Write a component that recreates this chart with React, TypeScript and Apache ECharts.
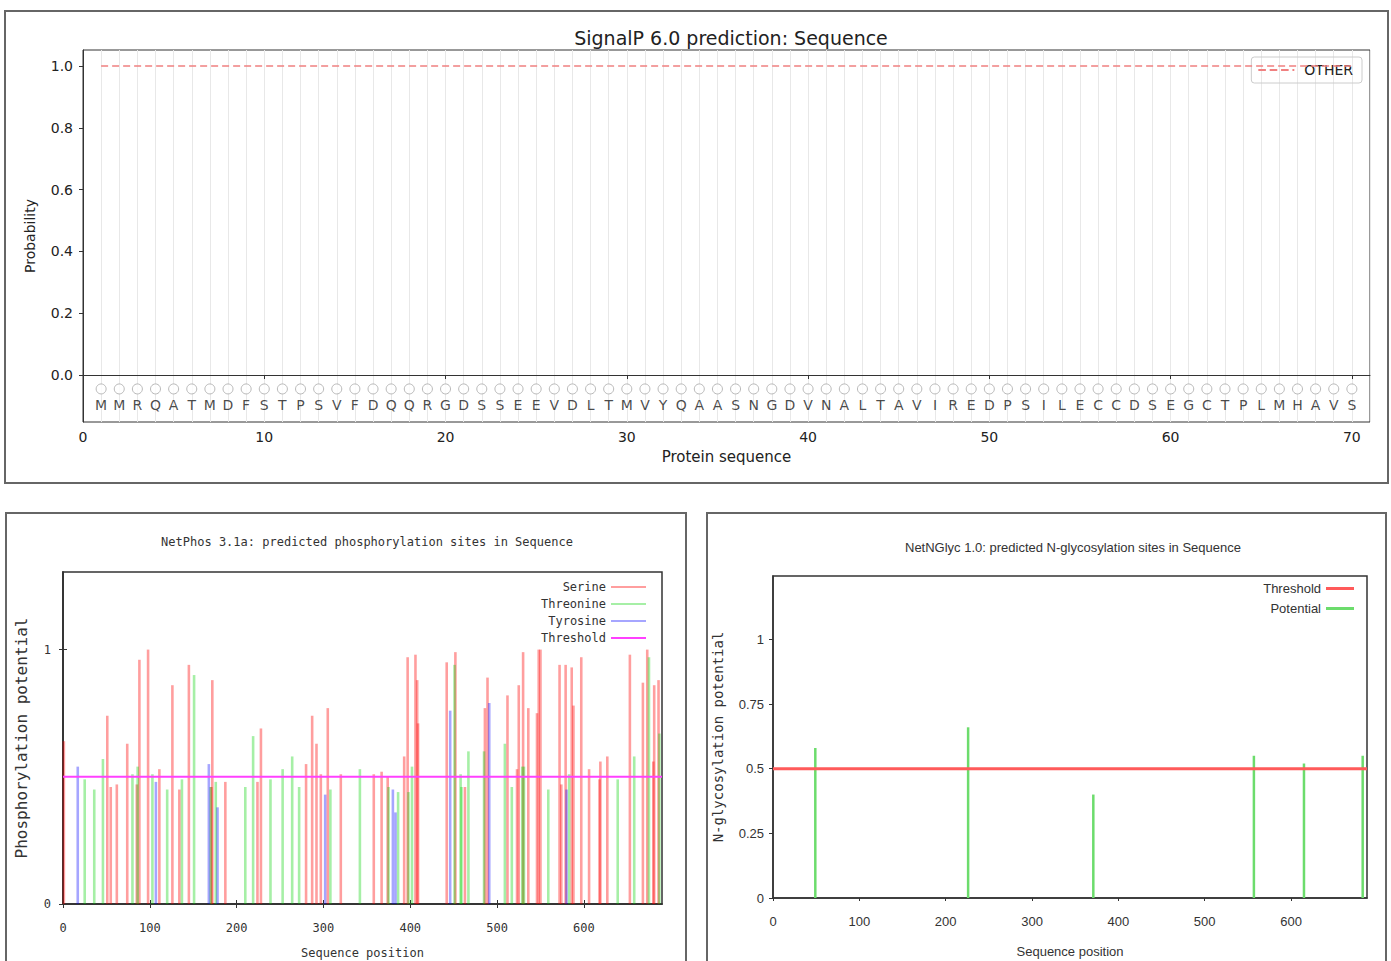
import React, { useEffect, useRef } from 'react';
import * as echarts from 'echarts';

// ---------- SignalP 6.0 (top) ----------
const sequence = ['M','M','R','Q','A','T','M','D','F','S','T','P','S','V','F','D','Q','Q','R','G','D','S','S','E','E','V','D','L','T','M','V','Y','Q','A','A','S','N','G','D','V','N','A','L','T','A','V','I','R','E','D','P','S','I','L','E','C','C','D','S','E','G','C','T','P','L','M','H','A','V','S'];
const otherProb = [1,1,1,1,1,1,1,1,1,1,1,1,1,1,1,1,1,1,1,1,1,1,1,1,1,1,1,1,1,1,1,1,1,1,1,1,1,1,1,1,1,1,1,1,1,1,1,1,1,1,1,1,1,1,1,1,1,1,1,1,1,1,1,1,1,1,1,1,1,1];
const topXTicks = [0, 10, 20, 30, 40, 50, 60, 70];
const topYTicks = [0, 0.2, 0.4, 0.6, 0.8, 1.0];

// ---------- NetPhos 3.1a (bottom left) ----------
const serine = [[1,0.64],[51,0.74],[55,0.46],[62,0.47],[74,0.63],[85,0.47],[88,0.96],[98,1.0],[111,0.53],[126,0.86],[134,0.45],[145,0.94],[171,0.46],[172,0.88],[187,0.48],[224,0.48],[228,0.69],[280,0.55],[287,0.74],[292,0.63],[297,0.51],[305,0.77],[320,0.51],[358,0.51],[367,0.52],[374,0.5],[393,0.58],[397,0.97],[406,0.98],[408,0.88],[409,0.71],[442,0.95],[452,0.99],[463,0.46],[486,0.77],[489,0.89],[512,0.82],[523,0.53],[525,0.86],[530,0.99],[536,0.77],[546,0.75],[548,1.0],[550,1.0],[572,0.94],[574,0.47],[579,0.94],[586,0.93],[588,0.78],[597,0.97],[606,0.53],[618,0.49],[619,0.56],[627,0.58],[653,0.98],[668,0.87],[673,1.0],[680,0.56],[681,0.86],[686,0.88]];
const threonine = [[25,0.49],[36,0.45],[46,0.57],[80,0.51],[86,0.54],[103,0.51],[120,0.45],[137,0.49],[151,0.9],[170,0.46],[176,0.48],[210,0.46],[219,0.66],[239,0.49],[253,0.53],[264,0.58],[272,0.46],[308,0.45],[342,0.53],[375,0.46],[386,0.44],[398,0.44],[402,0.54],[451,0.94],[458,0.51],[459,0.46],[467,0.6],[485,0.6],[509,0.63],[517,0.46],[529,0.54],[531,0.54],[559,0.45],[583,0.51],[639,0.49],[658,0.58],[675,0.97],[687,0.67]];
const tyrosine = [[17,0.54],[107,0.48],[168,0.55],[178,0.38],[302,0.43],[380,0.45],[383,0.36],[446,0.76],[491,0.79],[580,0.45]];
const phosThreshold = 0.5;
const phosLength = 690;
const phosXTicks = [0, 100, 200, 300, 400, 500, 600];
const phosYTicks = [0, 1];

// ---------- NetNGlyc 1.0 (bottom right) ----------
const glycPotential = [[49,0.58],[226,0.66],[371,0.4],[557,0.55],[615,0.52],[683,0.55]];
const glycThreshold = 0.5;
const glycLength = 688;
const glycXTicks = [0, 100, 200, 300, 400, 500, 600];
const glycYTicks = [0, 0.25, 0.5, 0.75, 1];

const MONO = 'DejaVu Sans Mono';
const SANS = 'DejaVu Sans';
const NARROW = 'Liberation Sans';
const DASH_ICON = 'path://M0,0h8v2h-8z M12,0h8v2h-8z M24,0h8v2h-8z M36,0h2v2h-2z';

const impulse = (width: number) => (params: any, api: any) => {
  const x = api.value(0);
  const y = api.value(1);
  const a = api.coord([x, 0]);
  const b = api.coord([x, y]);
  return {
    type: 'line',
    shape: { x1: a[0], y1: a[1], x2: b[0], y2: b[1] },
    style: { stroke: api.visual('color'), lineWidth: width },
  };
};

export default function App() {
  const ref = useRef<HTMLDivElement>(null);
  useEffect(() => {
    if (!ref.current) return;
    const chart = echarts.init(ref.current, null, { renderer: 'svg' });
    const option: any = {
      animation: false,
      backgroundColor: '#fff',
      graphic: [
        { type: 'rect', shape: { x: 5, y: 11, width: 1383, height: 472 }, style: { fill: 'none', stroke: '#666', lineWidth: 2 }, z: -1 },
        { type: 'rect', shape: { x: 6, y: 513, width: 680, height: 470 }, style: { fill: 'none', stroke: '#666', lineWidth: 2 }, z: -1 },
        { type: 'rect', shape: { x: 707, y: 513, width: 679, height: 470 }, style: { fill: 'none', stroke: '#666', lineWidth: 2 }, z: -1 },
      ],
      title: [
        { text: 'SignalP 6.0 prediction: Sequence', left: 726, top: 23, textAlign: 'center', textStyle: { fontFamily: SANS, fontSize: 19, fontWeight: 'normal', color: '#222' } },
        { text: 'NetPhos 3.1a: predicted phosphorylation sites in Sequence', left: 362, top: 531, textAlign: 'center', textStyle: { fontFamily: MONO, fontSize: 12, fontWeight: 'normal', color: '#333' } },
        { text: 'NetNGlyc 1.0: predicted N-glycosylation sites in Sequence', left: 1068, top: 536, textAlign: 'center', textStyle: { fontFamily: NARROW, fontSize: 13, fontWeight: 'normal', color: '#333' } },
      ],
      legend: [
        {
          data: [{ name: 'OTHER', icon: DASH_ICON }], right: 29, top: 57, orient: 'horizontal',
          borderColor: '#ccc', borderWidth: 1, borderRadius: 3, padding: [6, 9, 6, 7],
          itemWidth: 36, itemHeight: 2,
          textStyle: { fontFamily: SANS, fontSize: 14, color: '#222', padding: [0, 0, 0, 5] },
        },
        {
          data: [
            { name: 'Serine', icon: 'rect' },
            { name: 'Threonine', icon: 'rect' },
            { name: 'Tyrosine', icon: 'rect' },
            { name: 'Threshold', icon: 'rect' },
          ],
          right: 745, top: 580, orient: 'vertical', align: 'right',
          itemWidth: 35, itemHeight: 2, itemGap: 3, padding: 0,
          textStyle: { fontFamily: MONO, fontSize: 12, color: '#333', lineHeight: 14 },
        },
        {
          data: [
            { name: 'NGThreshold', icon: 'rect' },
            { name: 'Potential', icon: 'rect' },
          ],
          formatter: (n: string) => (n === 'NGThreshold' ? 'Threshold' : n),
          right: 37, top: 581, orient: 'vertical', align: 'right',
          itemWidth: 28, itemHeight: 3, itemGap: 5, padding: 0,
          textStyle: { fontFamily: NARROW, fontSize: 13, color: '#333', lineHeight: 15 },
        },
      ],
      grid: [
        { left: 83, top: 50, width: 1287, height: 372, show: true, borderColor: '#333', borderWidth: 1, backgroundColor: 'transparent' },
        { left: 63, top: 572, width: 599, height: 332, show: true, borderColor: '#333', borderWidth: 1.5, backgroundColor: 'transparent' },
        { left: 773, top: 576, width: 594, height: 322, show: true, borderColor: '#333', borderWidth: 1.5, backgroundColor: 'transparent' },
      ],
      xAxis: [
        {
          gridIndex: 0, type: 'value', min: 0, max: 71, position: 'bottom',
          name: 'Protein sequence', nameLocation: 'middle', nameGap: 27,
          nameTextStyle: { fontFamily: SANS, fontSize: 15, color: '#222' },
          axisLine: { show: true, lineStyle: { color: '#333' } },
          axisTick: { show: true, length: 4, customValues: topXTicks, lineStyle: { color: '#333' } },
          axisLabel: { customValues: topXTicks, margin: 8, fontFamily: SANS, fontSize: 14, color: '#222' },
          splitLine: { show: false },
        },
        {
          gridIndex: 0, type: 'value', min: 0, max: 71, interval: 1, position: 'top',
          axisLine: { show: false }, axisTick: { show: false }, axisLabel: { show: false },
          splitLine: { show: true, lineStyle: { color: '#e8e8e8', width: 1 } },
        },
        {
          gridIndex: 1, type: 'value', min: 0, max: phosLength, position: 'bottom',
          name: 'Sequence position', nameLocation: 'middle', nameGap: 43,
          nameTextStyle: { fontFamily: MONO, fontSize: 12, color: '#333' },
          axisLine: { show: true, lineStyle: { color: '#333', width: 1.5 } },
          axisTick: { show: true, length: 4, customValues: phosXTicks, lineStyle: { color: '#333' } },
          axisLabel: { customValues: phosXTicks, margin: 18, fontFamily: MONO, fontSize: 12, color: '#333' },
          splitLine: { show: false },
        },
        {
          gridIndex: 1, type: 'value', min: 0, max: phosLength, position: 'top',
          axisLine: { show: true, lineStyle: { color: '#333', width: 1.5 } },
          axisTick: { show: true, length: 4, customValues: phosXTicks, lineStyle: { color: '#333' } },
          axisLabel: { show: false },
          splitLine: { show: false },
        },
        {
          gridIndex: 2, type: 'value', min: 0, max: glycLength, position: 'bottom',
          name: 'Sequence position', nameLocation: 'middle', nameGap: 47,
          nameTextStyle: { fontFamily: NARROW, fontSize: 13, color: '#333' },
          axisLine: { show: true, lineStyle: { color: '#333', width: 1.5 } },
          axisTick: { show: true, length: 3, customValues: glycXTicks, lineStyle: { color: '#333' } },
          axisLabel: { customValues: glycXTicks, margin: 17, fontFamily: NARROW, fontSize: 13, color: '#333' },
          splitLine: { show: false },
        },
      ],
      yAxis: [
        {
          gridIndex: 0, type: 'value', min: -0.152, max: 1.052,
          name: 'Probability', nameLocation: 'middle', nameGap: 46, nameRotate: 90,
          nameTextStyle: { fontFamily: SANS, fontSize: 14, color: '#222' },
          axisLine: { show: true, lineStyle: { color: '#333' } },
          axisTick: { show: true, length: 4, customValues: topYTicks, lineStyle: { color: '#333' } },
          axisLabel: { customValues: topYTicks, margin: 10, fontFamily: SANS, fontSize: 14, color: '#222', formatter: (v: number) => v.toFixed(1) },
          splitLine: { show: false },
        },
        {
          gridIndex: 1, type: 'value', min: 0, max: 1.305,
          name: 'Phosphorylation potential', nameLocation: 'middle', nameGap: 34, nameRotate: 90,
          nameTextStyle: { fontFamily: MONO, fontSize: 16, color: '#333' },
          axisLine: { show: true, lineStyle: { color: '#333', width: 1.5 } },
          axisTick: { show: true, length: 4, customValues: phosYTicks, lineStyle: { color: '#333' } },
          axisLabel: { customValues: phosYTicks, margin: 12, fontFamily: MONO, fontSize: 12, color: '#333' },
          splitLine: { show: false },
        },
        {
          gridIndex: 1, type: 'value', min: 0, max: 1.305, position: 'right',
          axisLine: { show: true, lineStyle: { color: '#333', width: 1.5 } },
          axisTick: { show: true, length: 4, customValues: phosYTicks, lineStyle: { color: '#333' } },
          axisLabel: { show: false },
          splitLine: { show: false },
        },
        {
          gridIndex: 2, type: 'value', min: 0, max: 1.245,
          name: 'N-glycosylation potential', nameLocation: 'middle', nameGap: 48, nameRotate: 90,
          nameTextStyle: { fontFamily: MONO, fontSize: 14, color: '#333' },
          axisLine: { show: true, lineStyle: { color: '#333', width: 1.5 } },
          axisTick: { show: true, length: 4, customValues: glycYTicks, lineStyle: { color: '#333' } },
          axisLabel: { customValues: glycYTicks, margin: 9, fontFamily: NARROW, fontSize: 13, color: '#333' },
          splitLine: { show: false },
        },
      ],
      series: [
        {
          name: 'OTHER', type: 'line', xAxisIndex: 0, yAxisIndex: 0,
          data: sequence.map((_, i) => [i + 1, otherProb[i]]),
          symbol: 'none', showSymbol: false,
          itemStyle: { color: '#f08080' },
          lineStyle: { color: '#f08080', width: 1.5, type: [7, 4] },
          z: 5,
        },
        {
          name: 'residueMarker', type: 'scatter', xAxisIndex: 0, yAxisIndex: 0,
          data: sequence.map((_, i) => [i + 1, -0.045]),
          symbol: 'circle', symbolSize: 10,
          itemStyle: { color: '#fff', borderColor: '#a8a8a8', borderWidth: 1 },
          z: 4,
        },
        {
          name: 'residueLetter', type: 'scatter', xAxisIndex: 0, yAxisIndex: 0,
          data: sequence.map((_, i) => [i + 1, -0.098]),
          symbolSize: 1,
          itemStyle: { color: 'rgba(0,0,0,0)' },
          label: {
            show: true, position: 'inside',
            formatter: (p: any) => sequence[p.dataIndex],
            fontFamily: SANS, fontSize: 14, color: '#1a1a1a',
          },
          z: 4,
        },
        {
          name: 'Serine', type: 'custom', xAxisIndex: 2, yAxisIndex: 1,
          data: serine, encode: { x: 0, y: 1 },
          itemStyle: { color: 'rgba(255,0,0,0.38)' },
          renderItem: impulse(2.6),
        },
        {
          name: 'Threonine', type: 'custom', xAxisIndex: 2, yAxisIndex: 1,
          data: threonine, encode: { x: 0, y: 1 },
          itemStyle: { color: 'rgba(0,210,0,0.35)' },
          renderItem: impulse(2.6),
        },
        {
          name: 'Tyrosine', type: 'custom', xAxisIndex: 2, yAxisIndex: 1,
          data: tyrosine, encode: { x: 0, y: 1 },
          itemStyle: { color: 'rgba(0,0,255,0.35)' },
          renderItem: impulse(2.6),
        },
        {
          name: 'Threshold', type: 'line', xAxisIndex: 2, yAxisIndex: 1,
          data: [[0, phosThreshold], [phosLength, phosThreshold]],
          symbol: 'none', itemStyle: { color: '#ff40ff' },
          lineStyle: { color: '#ff40ff', width: 2 }, z: 6,
        },
        {
          name: 'NGThreshold', type: 'line', xAxisIndex: 4, yAxisIndex: 3,
          data: [[0, glycThreshold], [glycLength, glycThreshold]],
          symbol: 'none', itemStyle: { color: '#ff5a5a' },
          lineStyle: { color: '#ff5a5a', width: 3 }, z: 6,
        },
        {
          name: 'Potential', type: 'custom', xAxisIndex: 4, yAxisIndex: 3,
          data: glycPotential, encode: { x: 0, y: 1 },
          itemStyle: { color: '#6cdc6c' },
          renderItem: impulse(2.5),
        },
      ],
    };
    chart.setOption(option);
    return () => chart.dispose();
  }, []);
  return (
    <div
      ref={ref}
      style={{ position: 'fixed', left: 0, top: 0, width: 1391, height: 961, background: '#fff' }}
    />
  );
}
